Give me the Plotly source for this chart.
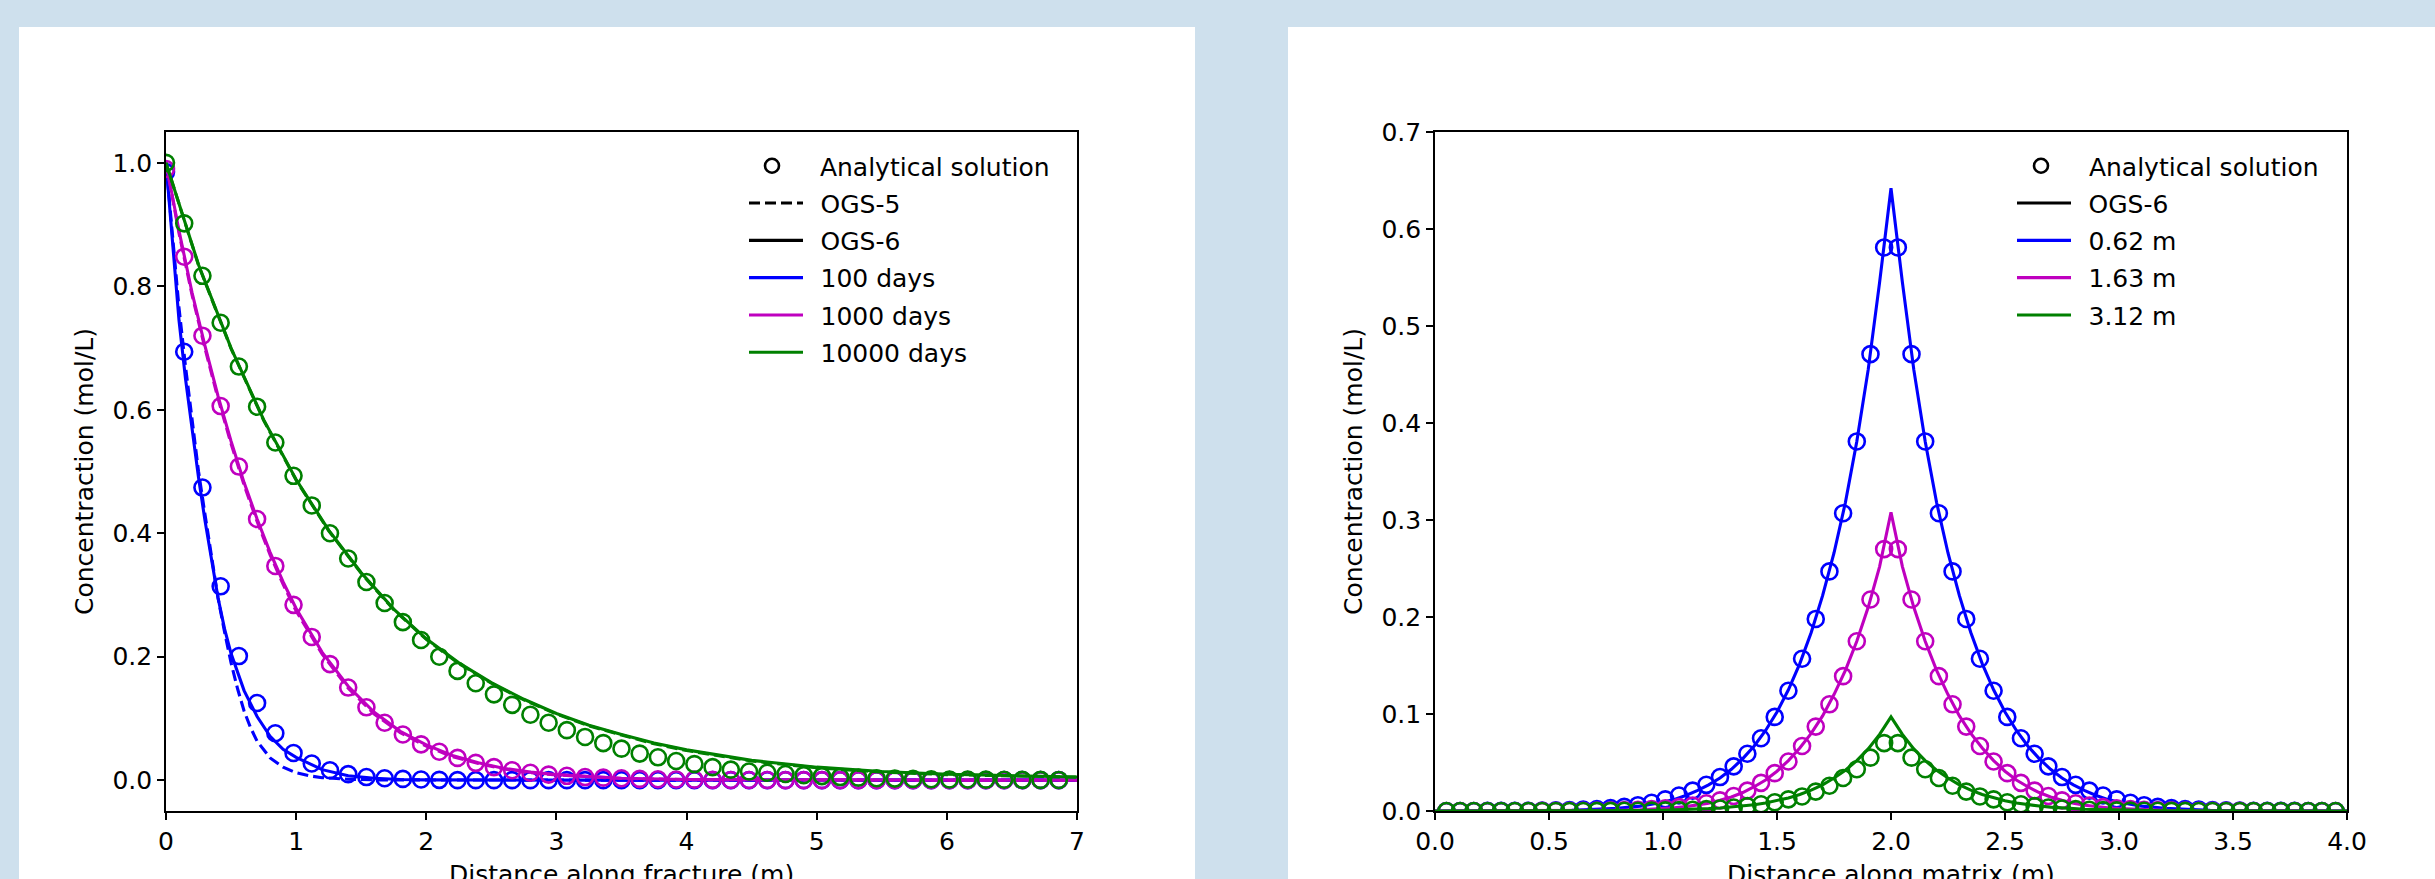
import plotly.graph_objects as go

# ---------------- data: left panel (distance along fracture) ----------------
frac_x_ana = [0.0, 0.14, 0.28, 0.42, 0.56, 0.70, 0.84, 0.98, 1.12, 1.26,
              1.40, 1.54, 1.68, 1.82, 1.96, 2.10, 2.24, 2.38, 2.52, 2.66,
              2.80, 2.94, 3.08, 3.22, 3.36, 3.50, 3.64, 3.78, 3.92, 4.06,
              4.20, 4.34, 4.48, 4.62, 4.76, 4.90, 5.04, 5.18, 5.32, 5.46,
              5.60, 5.74, 5.88, 6.02, 6.16, 6.30, 6.44, 6.58, 6.72, 6.86]

ana_100d = [0.985, 0.694, 0.474, 0.314, 0.201, 0.125, 0.076, 0.044, 0.027, 0.016,
            0.0097, 0.005, 0.003, 0.002, 0.001, 0.0005, 0, 0, 0, 0,
            0, 0, 0, 0, 0, 0, 0, 0, 0, 0,
            0, 0, 0, 0, 0, 0, 0, 0, 0, 0,
            0, 0, 0, 0, 0, 0, 0, 0, 0, 0]
ana_1000d = [0.99, 0.848, 0.720, 0.606, 0.508, 0.423, 0.347, 0.284, 0.232, 0.188,
             0.150, 0.118, 0.093, 0.074, 0.058, 0.046, 0.036, 0.028, 0.021, 0.016,
             0.012, 0.009, 0.007, 0.005, 0.004, 0.003, 0.002, 0.0015, 0.001, 0.0008,
             0.0005, 0.0003, 0.0002, 0.0001, 0, 0, 0, 0, 0, 0,
             0, 0, 0, 0, 0, 0, 0, 0, 0, 0]
ana_10000d = [1.0, 0.902, 0.817, 0.741, 0.670, 0.605, 0.547, 0.493, 0.445, 0.400,
              0.359, 0.321, 0.287, 0.256, 0.227, 0.200, 0.177, 0.157, 0.139, 0.122,
              0.106, 0.093, 0.081, 0.070, 0.060, 0.051, 0.043, 0.037, 0.031, 0.026,
              0.021, 0.017, 0.014, 0.012, 0.010, 0.008, 0.0065, 0.005, 0.004, 0.003,
              0.0025, 0.002, 0.0015, 0.001, 0.001, 0.0008, 0.0006, 0.0005, 0.0004, 0.0003]

ogs6_100d_x = [0, 0.05, 0.1, 0.15, 0.2, 0.25, 0.3, 0.35, 0.4, 0.45, 0.5, 0.6, 0.7,
               0.8, 0.9, 1.0, 1.2, 1.4, 1.6, 1.8, 2.0, 3.0, 4.0, 5.0, 6.0, 7.0]
ogs6_100d_y = [1.0, 0.87, 0.745, 0.65, 0.565, 0.49, 0.42, 0.355, 0.295, 0.245, 0.205, 0.145, 0.103,
               0.071, 0.05, 0.037, 0.017, 0.007, 0.003, 0.001, 0.0005, 0, 0, 0, 0, 0]
ogs5_100d_x = [0, 0.05, 0.1, 0.15, 0.2, 0.25, 0.3, 0.35, 0.4, 0.45, 0.5, 0.55, 0.6, 0.65,
               0.7, 0.8, 0.9, 1.0, 1.1, 1.2, 1.4, 1.6, 2.0, 3.0, 4.0, 5.0, 6.0, 7.0]
ogs5_100d_y = [1.0, 0.88, 0.765, 0.67, 0.58, 0.5, 0.43, 0.36, 0.295, 0.24, 0.19, 0.148, 0.112, 0.085,
               0.063, 0.036, 0.021, 0.012, 0.007, 0.004, 0.0015, 0.0005, 0, 0, 0, 0, 0, 0]

ogs_1000d_x = [0, 0.1, 0.2, 0.3, 0.4, 0.5, 0.6, 0.7, 0.8, 0.9, 1.0, 1.2, 1.4,
               1.6, 1.8, 2.0, 2.2, 2.4, 2.6, 2.8, 3.0, 3.5, 4.0, 5.0, 6.0, 7.0]
ogs6_1000d_y = [1.0, 0.89, 0.79, 0.703, 0.622, 0.549, 0.482, 0.423, 0.369, 0.321, 0.278, 0.207, 0.152,
                0.110, 0.079, 0.057, 0.040, 0.028, 0.019, 0.013, 0.009, 0.003, 0.001, 0.0002, 0, 0]
ogs5_1000d_y = [1.0, 0.886, 0.786, 0.699, 0.618, 0.545, 0.478, 0.419, 0.365, 0.317, 0.274, 0.204, 0.149,
                0.107, 0.077, 0.055, 0.038, 0.027, 0.018, 0.012, 0.0085, 0.0027, 0.0009, 0.0001, 0, 0]

ogs_10000d_x = [0, 0.25, 0.5, 0.75, 1.0, 1.25, 1.5, 1.75, 2.0, 2.25, 2.5, 2.75,
                3.0, 3.25, 3.5, 3.75, 4.0, 4.5, 5.0, 5.5, 6.0, 6.5, 7.0]
ogs6_10000d_y = [1.0, 0.835, 0.70, 0.584, 0.487, 0.405, 0.336, 0.277, 0.229, 0.19, 0.158, 0.131,
                 0.108, 0.089, 0.074, 0.060, 0.049, 0.032, 0.021, 0.014, 0.0095, 0.0068, 0.005]
ogs5_10000d_y = [1.0, 0.834, 0.699, 0.583, 0.486, 0.404, 0.335, 0.276, 0.228, 0.189, 0.157, 0.130,
                 0.107, 0.088, 0.073, 0.059, 0.048, 0.031, 0.020, 0.013, 0.009, 0.0065, 0.0048]

# ---------------- data: right panel (distance along matrix) ----------------
mat_x_ana = [0.05, 0.11, 0.17, 0.23, 0.29, 0.35, 0.41, 0.47, 0.53, 0.59, 0.65,
             0.71, 0.77, 0.83, 0.89, 0.95, 1.01, 1.07, 1.13, 1.19, 1.25, 1.31,
             1.37, 1.43, 1.49, 1.55, 1.61, 1.67, 1.73, 1.79, 1.85, 1.91, 1.97,
             2.03, 2.09, 2.15, 2.21, 2.27, 2.33, 2.39, 2.45, 2.51, 2.57, 2.63,
             2.69, 2.75, 2.81, 2.87, 2.93, 2.99, 3.05, 3.11, 3.17, 3.23, 3.29,
             3.35, 3.41, 3.47, 3.53, 3.59, 3.65, 3.71, 3.77, 3.83, 3.89, 3.95]

ana_062m = [0.0, 0.0, 0.0, 0.0001, 0.0001, 0.0002, 0.0003, 0.0005, 0.0007, 0.001, 0.0015,
            0.0021, 0.003, 0.0043, 0.006, 0.0085, 0.012, 0.016, 0.021, 0.027, 0.035, 0.046,
            0.059, 0.075, 0.097, 0.124, 0.157, 0.198, 0.247, 0.307, 0.381, 0.471, 0.581,
            0.581, 0.471, 0.381, 0.307, 0.247, 0.198, 0.157, 0.124, 0.097, 0.075, 0.059,
            0.046, 0.035, 0.027, 0.021, 0.016, 0.012, 0.0085, 0.006, 0.0043, 0.003, 0.0021,
            0.0015, 0.001, 0.0007, 0.0005, 0.0003, 0.0002, 0.0001, 0.0001, 0.0, 0.0, 0.0]
ana_163m = [0, 0, 0, 0, 0, 0, 0, 0.0001, 0.0001, 0.0002, 0.0003,
            0.0004, 0.0006, 0.0009, 0.0013, 0.002, 0.0028, 0.004, 0.0057, 0.008, 0.011, 0.0155,
            0.021, 0.029, 0.039, 0.051, 0.067, 0.087, 0.110, 0.139, 0.175, 0.218, 0.270,
            0.270, 0.218, 0.175, 0.139, 0.110, 0.087, 0.067, 0.051, 0.039, 0.029, 0.021,
            0.0155, 0.011, 0.008, 0.0057, 0.004, 0.0028, 0.002, 0.0013, 0.0009, 0.0006, 0.0004,
            0.0003, 0.0002, 0.0001, 0.0001, 0, 0, 0, 0, 0, 0, 0]
ana_312m = [0, 0, 0, 0, 0, 0, 0, 0, 0, 0, 0,
            0.0001, 0.0001, 0.0002, 0.0003, 0.0004, 0.0006, 0.0009, 0.0013, 0.0019, 0.0026, 0.0036,
            0.005, 0.007, 0.009, 0.012, 0.015, 0.020, 0.026, 0.034, 0.043, 0.055, 0.070,
            0.070, 0.055, 0.043, 0.034, 0.026, 0.020, 0.015, 0.012, 0.009, 0.007, 0.005,
            0.0036, 0.0026, 0.0019, 0.0013, 0.0009, 0.0006, 0.0004, 0.0003, 0.0002, 0.0001, 0.0001,
            0, 0, 0, 0, 0, 0, 0, 0, 0, 0, 0]

mat_x_ogs = [0.0, 0.4, 0.6, 0.8, 0.9, 1.0, 1.05, 1.1, 1.15, 1.2, 1.25, 1.3, 1.35,
             1.4, 1.45, 1.5, 1.55, 1.6, 1.65, 1.7, 1.75, 1.8, 1.85, 1.9, 1.95,
             2.0,
             2.05, 2.1, 2.15, 2.2, 2.25, 2.3, 2.35, 2.4, 2.45, 2.5, 2.55, 2.6,
             2.65, 2.7, 2.75, 2.8, 2.85, 2.9, 2.95, 3.0, 3.1, 3.2, 3.4, 3.6, 4.0]
ogs6_062m = [0.0, 0.0002, 0.0008, 0.0028, 0.005, 0.009, 0.012, 0.016, 0.021, 0.027, 0.034, 0.043, 0.054,
             0.067, 0.083, 0.102, 0.125, 0.152, 0.184, 0.222, 0.266, 0.318, 0.381, 0.455, 0.545,
             0.642,
             0.545, 0.455, 0.381, 0.318, 0.266, 0.222, 0.184, 0.152, 0.125, 0.102, 0.083, 0.067,
             0.054, 0.043, 0.034, 0.027, 0.021, 0.016, 0.012, 0.009, 0.005, 0.0028, 0.0008, 0.0002, 0.0]
ogs6_163m = [0.0, 0.0001, 0.0002, 0.0007, 0.0013, 0.0025, 0.0033, 0.0045, 0.006, 0.008, 0.011, 0.0145, 0.019,
             0.025, 0.032, 0.041, 0.052, 0.065, 0.080, 0.098, 0.120, 0.145, 0.175, 0.210, 0.252,
             0.308,
             0.252, 0.210, 0.175, 0.145, 0.120, 0.098, 0.080, 0.065, 0.052, 0.041, 0.032, 0.025,
             0.019, 0.0145, 0.011, 0.008, 0.006, 0.0045, 0.0033, 0.0025, 0.0013, 0.0007, 0.0002, 0.0001, 0.0]
ogs6_312m = [0.0, 0.0, 0.0001, 0.0003, 0.0005, 0.0008, 0.0011, 0.0014, 0.0018, 0.0024, 0.0031, 0.004, 0.0051,
             0.0065, 0.0083, 0.0105, 0.0135, 0.017, 0.0215, 0.027, 0.034, 0.042, 0.052, 0.064, 0.079,
             0.097,
             0.079, 0.064, 0.052, 0.042, 0.034, 0.027, 0.0215, 0.017, 0.0135, 0.0105, 0.0083, 0.0065,
             0.0051, 0.004, 0.0031, 0.0024, 0.0018, 0.0014, 0.0011, 0.0008, 0.0005, 0.0003, 0.0001, 0.0, 0.0]

left_labels = ["Analytical solution", "OGS-5", "OGS-6", "100 days", "1000 days", "10000 days"]
right_labels = ["Analytical solution", "OGS-6", "0.62 m", "1.63 m", "3.12 m"]
left_xtitle = "Distance along fracture (m)"
right_xtitle = "Distance along matrix (m)"
ytitle = "Concentraction (mol/L)"
left_ticks_x = [0, 1, 2, 3, 4, 5, 6, 7]
left_ticks_y = [0.0, 0.2, 0.4, 0.6, 0.8, 1.0]
right_ticks_x = [0.0, 0.5, 1.0, 1.5, 2.0, 2.5, 3.0, 3.5, 4.0]
right_ticks_y = [0.0, 0.1, 0.2, 0.3, 0.4, 0.5, 0.6, 0.7]

# ---------------- styling ----------------
BLUE, MAG, GREEN = "#0000ff", "#bf00bf", "#008000"
FONT = "DejaVu Sans"
W, H = 2435, 879
LW = 3.1
MS = 16
DASH = "11px,5px"
GAP_LINE = "\u2002"            # gap between legend line symbol and label
GAP_MARK = "\u00a0\u00a0"      # gap between legend marker symbol and label


def fx(px):
    return px / W


def fy(py):
    return 1 - py / H


fig = go.Figure()


def circles(x, y, color, xa, ya):
    fig.add_trace(go.Scatter(x=x, y=y, mode="markers", xaxis=xa, yaxis=ya, showlegend=False,
                             marker=dict(symbol="circle-open", size=MS, color=color,
                                         line=dict(width=2.6, color=color)),
                             hoverinfo="skip"))


def line(x, y, color, xa, ya, dash="solid"):
    fig.add_trace(go.Scatter(x=x, y=y, mode="lines", xaxis=xa, yaxis=ya, showlegend=False,
                             line=dict(color=color, width=LW, dash=dash), hoverinfo="skip"))


# left panel
circles(frac_x_ana, ana_100d, BLUE, "x", "y")
line(ogs5_100d_x, ogs5_100d_y, BLUE, "x", "y", DASH)
line(ogs6_100d_x, ogs6_100d_y, BLUE, "x", "y")
circles(frac_x_ana, ana_1000d, MAG, "x", "y")
line(ogs_1000d_x, ogs5_1000d_y, MAG, "x", "y", DASH)
line(ogs_1000d_x, ogs6_1000d_y, MAG, "x", "y")
circles(frac_x_ana, ana_10000d, GREEN, "x", "y")
line(ogs_10000d_x, ogs5_10000d_y, GREEN, "x", "y", DASH)
line(ogs_10000d_x, ogs6_10000d_y, GREEN, "x", "y")

# right panel
circles(mat_x_ana, ana_062m, BLUE, "x2", "y2")
line(mat_x_ogs, ogs6_062m, BLUE, "x2", "y2")
circles(mat_x_ana, ana_163m, MAG, "x2", "y2")
line(mat_x_ogs, ogs6_163m, MAG, "x2", "y2")
circles(mat_x_ana, ana_312m, GREEN, "x2", "y2")
line(mat_x_ogs, ogs6_312m, GREEN, "x2", "y2")

# legend entries: one small legend per row so the rows sit exactly where the reference has them
legend_defs = {}
legend_common = dict(bgcolor="rgba(0,0,0,0)", borderwidth=0,
                     font=dict(family=FONT, size=25, color="black"),
                     xanchor="left", yanchor="top", itemwidth=54)
ROW0, ROWSTEP = 143, 37.3
leg_counter = [0]


def leg_entry(label, xa, ya, kind, color, row, x_line, x_marker):
    leg_counter[0] += 1
    n = leg_counter[0]
    lname = "legend" if n == 1 else "legend%d" % n
    ytop = ROW0 + ROWSTEP * row
    if kind == "marker":
        legend_defs[lname] = dict(x=fx(x_marker), y=fy(ytop), **legend_common)
        fig.add_trace(go.Scatter(x=[None], y=[None], mode="markers", name=GAP_MARK + label, legend=lname,
                                 xaxis=xa, yaxis=ya,
                                 marker=dict(symbol="circle-open", size=14, color=color,
                                             line=dict(width=2.6, color=color))))
    else:
        legend_defs[lname] = dict(x=fx(x_line), y=fy(ytop), **legend_common)
        fig.add_trace(go.Scatter(x=[None], y=[None], mode="lines", name=GAP_LINE + label, legend=lname,
                                 xaxis=xa, yaxis=ya,
                                 line=dict(color=color, width=LW,
                                           dash=DASH if kind == "dash" else "solid")))


left_kinds = [("marker", "black"), ("dash", "black"), ("line", "black"),
              ("line", BLUE), ("line", MAG), ("line", GREEN)]
for i, (lab, (k, c)) in enumerate(zip(left_labels, left_kinds)):
    leg_entry(lab, "x", "y", k, c, i, 744, 740)
right_kinds = [("marker", "black"), ("line", "black"), ("line", BLUE), ("line", MAG), ("line", GREEN)]
for i, (lab, (k, c)) in enumerate(zip(right_labels, right_kinds)):
    leg_entry(lab, "x2", "y2", k, c, i, 2012, 2009)

axis_common = dict(showline=True, linecolor="black", linewidth=1.7, mirror=True,
                   ticks="outside", ticklen=7, tickwidth=1.7, tickcolor="black",
                   showgrid=False, zeroline=False, automargin=False,
                   tickfont=dict(family=FONT, size=25, color="black"))
title_font = dict(family=FONT, size=25, color="black")
ydom = [fy(811), fy(132)]

fig.update_layout(
    width=W, height=H, autosize=False,
    margin=dict(l=0, r=0, t=0, b=0, pad=0, autoexpand=False),
    paper_bgcolor="#cee0ed", plot_bgcolor="white",
    font=dict(family=FONT, size=25, color="black"),
    xaxis=dict(domain=[fx(166), fx(1077)], range=[0, 7], anchor="y",
               tickvals=left_ticks_x, ticktext=[str(v) for v in left_ticks_x],
               **axis_common),
    yaxis=dict(domain=ydom, range=[-0.05, 1.05], anchor="x",
               tickvals=left_ticks_y, ticktext=["%.1f" % v for v in left_ticks_y],
               title=dict(text=ytitle, font=title_font, standoff=12),
               **axis_common),
    xaxis2=dict(domain=[fx(1435), fx(2347)], range=[0, 4], anchor="y2",
                tickvals=right_ticks_x, ticktext=["%.1f" % v for v in right_ticks_x],
                **axis_common),
    yaxis2=dict(domain=ydom, range=[0, 0.7], anchor="x2",
                tickvals=right_ticks_y, ticktext=["%.1f" % v for v in right_ticks_y],
                title=dict(text=ytitle, font=title_font, standoff=12),
                **axis_common),
    annotations=[
        dict(text=left_xtitle, xref="paper", yref="paper", x=fx(621.5), y=fy(874),
             xanchor="center", yanchor="middle", showarrow=False, font=title_font),
        dict(text=right_xtitle, xref="paper", yref="paper", x=fx(1891), y=fy(874),
             xanchor="center", yanchor="middle", showarrow=False, font=title_font),
    ],
    shapes=[
        dict(type="rect", xref="paper", yref="paper", x0=fx(19), x1=fx(1195), y0=-0.2, y1=fy(27),
             fillcolor="white", line=dict(width=0), layer="below"),
        dict(type="rect", xref="paper", yref="paper", x0=fx(1288), x1=1.2, y0=-0.2, y1=fy(27),
             fillcolor="white", line=dict(width=0), layer="below"),
    ],
)
fig.update_layout(**legend_defs)

fig.write_html("out.html",
               post_script="document.body.style.margin='0';document.body.style.overflow='hidden';")
